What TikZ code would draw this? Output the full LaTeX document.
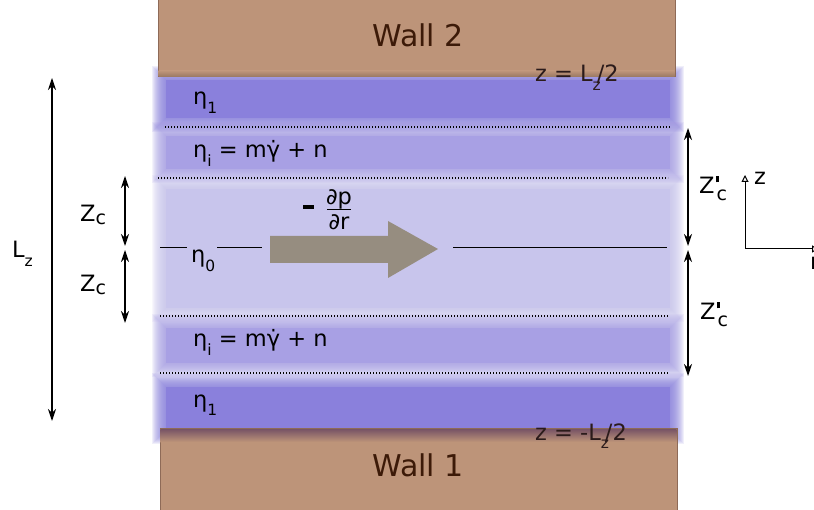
\documentclass[tikz,border=0pt]{standalone}
\usepackage{fontspec}
\setmainfont{DejaVu Sans}
\usetikzlibrary{arrows.meta}
\definecolor{wallc}{HTML}{BD9479}
\definecolor{wallline}{HTML}{8E6A57}
\definecolor{wallshadow}{HTML}{7A5666}
\definecolor{walltext}{HTML}{3C1A08}
\definecolor{ztext}{HTML}{2B1B1B}
\definecolor{bandA}{HTML}{8A80DC}
\definecolor{bandB}{HTML}{A8A0E4}
\definecolor{bandC}{HTML}{C8C5EC}
\definecolor{arrowgray}{HTML}{968D80}
\newcommand\lsub[1]{\raisebox{-8.5pt}{\fontsize{15.5}{18}\selectfont #1}}
\newcommand\bigsub[1]{\raisebox{-2.5pt}{\fontsize{19}{22}\selectfont #1}}
\newcommand\psub[1]{\raisebox{-7pt}{\fontsize{19}{22}\selectfont #1}}
\newcommand\primemark{\rlap{\kern1.5pt\raisebox{11.5pt}{\rule{2.6pt}{6pt}}}\kern2pt}
\newcommand\blurband[5]{%
  \foreach \k in {14,13,...,1}{\fill[#1,opacity=0.12] (#2-\k,#3-\k) rectangle (#4+\k,#5+\k);}
  \fill[#1] (#2,#3) rectangle (#4,#5);}
\tikzset{
  lbl/.style={font=\fontsize{22.5}{26}\selectfont, inner sep=0pt, anchor=base west},
  walllbl/.style={font=\fontsize{30}{36}\selectfont, text=walltext, inner sep=0pt},
  wallbox/.style={fill=wallc, draw=wallline, line width=1pt},
  sep/.style={line width=1.1pt, dash pattern=on 1.1pt off 1.9pt},
  thinline/.style={line width=1pt},
  dimarrow/.style={line width=1.1pt, {Stealth[length=12pt,width=8pt,inset=4pt]}-{Stealth[length=12pt,width=8pt,inset=4pt]}},
  axisarrow/.style={line width=1pt, -{Triangle[open,length=7pt,width=7pt,fill=white]}}
}
\begin{document}
\begin{tikzpicture}[x=1pt,y=-1pt]
\useasboundingbox (0,0) rectangle (814,510);
\fill[white] (0,0) rectangle (814,510);
% bands
\blurband{bandC}{166}{189}{670}{308}
\blurband{bandB}{166}{136}{670}{169}
\blurband{bandB}{166}{328}{670}{363}
\blurband{bandA}{166}{80}{670}{118}
\blurband{bandA}{166}{387}{670}{430}
% walls
\draw[wallbox] (158,-3) rectangle (675,77);
\shade[top color=wallc, bottom color=wallc!82!black] (158.5,71) rectangle (674.5,76.5);
\draw[wallbox] (160,429) rectangle (677,513);
\shade[top color=wallshadow, bottom color=wallc] (160.5,429.5) rectangle (676.5,442);
\node[walllbl] (wall2) at (418,35) {Wall 2};
\node[walllbl] (wall1) at (418,465) {Wall 1};
% dotted separators
\draw[sep] (165,127) -- (670,127);
\draw[sep] (158,178) -- (668,178);
\draw[sep] (160,316) -- (668,316);
\draw[sep] (160,373) -- (668,373);
% layer labels
\node[lbl] (eta1t) at (193,105) {η\lsub{1}};
\node[lbl] (etait) at (193,158) {η\lsub{i} = mγ̇ + n};
\node[lbl] (eta0) at (191,263) {η\lsub{0}};
\node[lbl] (etaib) at (193,347) {η\lsub{i} = mγ̇ + n};
\node[lbl] (eta1b) at (193,407) {η\lsub{1}};
\node[lbl, text=ztext] (ztop) at (535,82) {z = L\lsub{z}\kern-4pt/2};
\node[lbl, text=ztext] (zbot) at (535,440) {z = -L\lsub{z}\kern-4pt/2};
% centre line
\coordinate (c1a) at (160,248); \coordinate (c1b) at (187,248);
\coordinate (c2a) at (217,248); \coordinate (c2b) at (262,248);
\coordinate (c3a) at (453,248); \coordinate (c3b) at (667,248);
\draw[thinline] (c1a) -- (c1b);
\draw[thinline] (c2a) -- (c2b);
\draw[thinline] (c3a) -- (c3b);
% pressure gradient arrow
\fill[arrowgray] (270,236) -- (388,236) -- (388,221) -- (438,249) -- (388,278) -- (388,263) -- (270,263) -- cycle;
\fill[black] (303,205) rectangle (314,209);
\node[lbl, anchor=base] (dp) at (339,205) {∂p};
\node[lbl, anchor=base] (dr) at (339,230) {∂r};
\draw[line width=1pt] (327,209.5) -- (351,209.5);
% left dimensions
\coordinate (lzt) at (52,78); \coordinate (lzb) at (52,421);
\draw[dimarrow] (lzt) -- (lzb);
\node[lbl] (lz) at (12,258) {L\lsub{z}};
\coordinate (zca) at (125,176); \coordinate (zcb) at (125,246);
\coordinate (zcc) at (125,250); \coordinate (zcd) at (125,323);
\draw[dimarrow] (zca) -- (zcb);
\draw[dimarrow] (zcc) -- (zcd);
\node[lbl] (zc1) at (80,222) {Z\bigsub{c}};
\node[lbl] (zc2) at (80,292) {Z\bigsub{c}};
% right dimensions
\coordinate (zpa) at (688,128); \coordinate (zpb) at (688,246);
\coordinate (zpc) at (688,250); \coordinate (zpd) at (688,376);
\draw[dimarrow] (zpa) -- (zpb);
\draw[dimarrow] (zpc) -- (zpd);
\node[lbl] (zp1) at (699,194) {Z\primemark\psub{c}};
\node[lbl] (zp2) at (700,320) {Z\primemark\psub{c}};
% axes
\coordinate (o) at (745,249);
\coordinate (zend) at (745,175);
\coordinate (rend) at (819,249);
\draw[axisarrow] (o) -- (zend);
\draw[axisarrow] (o) -- (rend);
\node[lbl] (zax) at (754,185) {z};
\node[lbl] (rax) at (810,270) {r};
\end{tikzpicture}
\end{document}
